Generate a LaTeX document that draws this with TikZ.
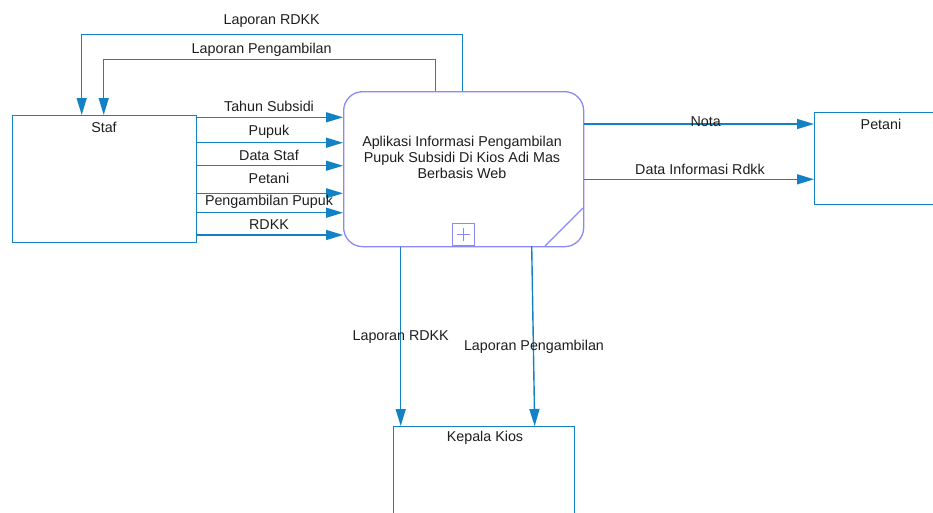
\documentclass[tikz,border=0pt]{standalone}
\usepackage{fontspec}
\setmainfont{Liberation Sans}
\usetikzlibrary{arrows.meta}
\definecolor{flowblue}{HTML}{1282C4}
\definecolor{procline}{HTML}{8A8AF6}
\definecolor{txt}{HTML}{1E1E1E}
\tikzset{
  entity/.style={draw=flowblue, line width=1.3pt, fill=white, anchor=north west, inner sep=0pt},
  title/.style={text=txt, font=\fontsize{14.3}{16}\selectfont, anchor=center, inner sep=0pt},
  flow/.style={draw=flowblue, line width=1.4pt, -{Triangle[length=17pt,width=10pt]}},
  flowlabel/.style={text=txt, font=\fontsize{14.3}{16}\selectfont, inner sep=0pt, anchor=center},
}
\begin{document}
\begin{tikzpicture}[x=1pt, y=-1pt]
\useasboundingbox (0,0) rectangle (933,512);

% external entities
\node[entity, minimum width=184pt, minimum height=127pt] (staf) at (12,115) {};
\node[title] (staft) at (104,127) {Staf};
\node[entity, minimum width=140pt, minimum height=92pt] (petani) at (814,112) {};
\node[title] (petanit) at (881,124) {Petani};
\node[entity, minimum width=181pt, minimum height=110pt] (kepala) at (393,426) {};
\node[title] (kepalat) at (485,437.5) {Kepala Kios};

% process
\node[draw=procline, line width=1.3pt, rounded corners=19pt, fill=white,
      minimum width=240pt, minimum height=155pt, anchor=north west, inner sep=0pt] (proc) at (343,91) {};
\node[title, align=center, font=\fontsize{14.3}{16.2}\selectfont] (proct) at (462,157.5)
  {Aplikasi Informasi Pengambilan\\ Pupuk Subsidi Di Kios Adi Mas\\Berbasis Web};
\node[draw=procline, line width=1.2pt, fill=white, minimum width=22pt, minimum height=22pt, anchor=south west, inner sep=0pt] (plus) at (452,246) {};
\draw[procline, line width=1.1pt] ([xshift=-6.5pt]plus.center) -- ([xshift=6.5pt]plus.center)
  ([yshift=-6.5pt]plus.center) -- ([yshift=6.5pt]plus.center);
\coordinate (cutA) at (545,246);
\coordinate (cutB) at (583,208);
\draw[procline, line width=1.2pt] (cutA) -- (cutB);

% flows from Staf into the process
\foreach \yy/\lab/\ly in {117.3/Tahun Subsidi/106, 142.7/Pupuk/132, 165.7/Data Staf/155.7,
                          193.3/Petani/178.3, 212.7/Pengambilan Pupuk/201.7, 235/RDKK/225} {
  \draw[flow] (staf.east |- 0,\yy) -- (proc.west |- 0,\yy);
  \node[flowlabel] at (269,\ly) {\lab};
}

% reports back to Staf
\coordinate (r1a) at (462.7,34.3);
\coordinate (r1b) at (81.7,34.3);
\draw[flow] (proc.north -| r1a) -- (r1a) -- (r1b) -- (staf.north -| r1b);
\node[flowlabel] (r1l) at (271.7,20.7) {Laporan RDKK};
\coordinate (r2a) at (435.7,59.3);
\coordinate (r2b) at (103.7,59.3);
\draw[flow] (proc.north -| r2a) -- (r2a) -- (r2b) -- (staf.north -| r2b);
\node[flowlabel] (r2l) at (261.7,49.3) {Laporan Pengambilan};

% flows to Petani
\draw[flow] (proc.east |- 0,124) -- (petani.west |- 0,124);
\node[flowlabel] (notal) at (705.7,121.7) {Nota};
\draw[flow] (proc.east |- 0,179.3) -- (petani.west |- 0,179.3);
\node[flowlabel] (rdkkl) at (700,169.3) {Data Informasi Rdkk};

% flows to Kepala Kios
\draw[flow] (proc.south -| 400.7,0) -- (kepala.north -| 400.7,0);
\node[flowlabel] (k1l) at (400.7,336.7) {Laporan RDKK};
\coordinate (k2a) at (531.7,246);
\coordinate (k2b) at (534.7,426);
\draw[flow] (k2a) -- (k2b);
\node[flowlabel] (k2l) at (534,346.7) {Laporan Pengambilan};
\end{tikzpicture}
\end{document}
